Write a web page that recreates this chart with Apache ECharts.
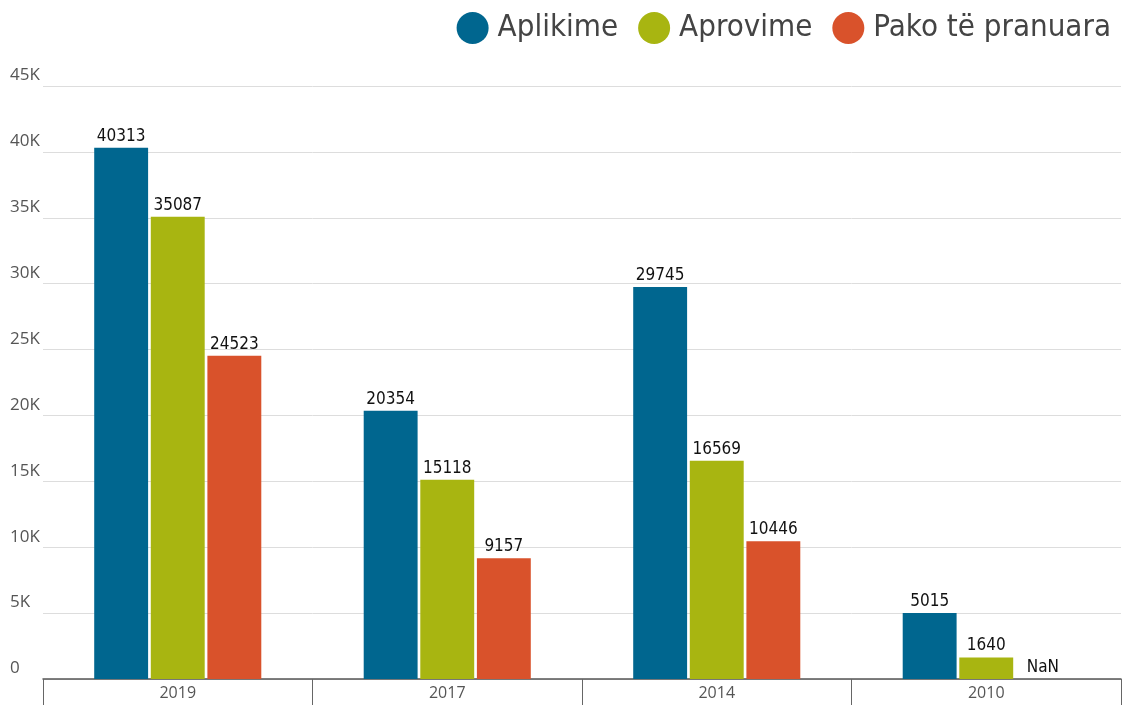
<!DOCTYPE html>
<html><head><meta charset="utf-8">
<script src="https://cdn.jsdelivr.net/npm/echarts@6/dist/echarts.min.js"></script>
<style>html,body{margin:0;padding:0;background:#fff}#c{width:1124px;height:708px}</style>
</head><body><div id="c"></div>
<script>
const categories = ['2019', '2017', '2014', '2010'];
const aplikime = [40313, 20354, 29745, 5015];
const aprovime = [35087, 15118, 16569, 1640];
const pako = [24523, 9157, 10446, null];
const yTicks = ['0', '5K', '10K', '15K', '20K', '25K', '30K', '35K', '40K', '45K'];

const labelFont = '"Liberation Sans Narrow", "DejaVu Sans Condensed", sans-serif';
function mk(name, data, color) {
  return {
    name, type: 'bar', data: data.map(v => v === null ? 0 : v),
    itemStyle: { color },
    barGap: '5%', barCategoryGap: '38%',
    label: {
      show: true, position: 'top', distance: 3, color: '#111',
      fontFamily: labelFont, fontSize: 17,
      formatter: p => (data[p.dataIndex] === null ? 'NaN' : String(p.value))
    }
  };
}
const chart = echarts.init(document.getElementById('c'));
chart.setOption({
  animation: false,
  legend: {
    right: 8, top: 7, itemWidth: 32, itemHeight: 32, itemGap: 20, icon: 'circle',
    textStyle: { fontFamily: labelFont, fontSize: 31, color: '#444', padding: [0, 0, 0, 4] }
  },
  grid: { left: 43, right: 3, top: 86, bottom: 29 },
  xAxis: {
    type: 'category', data: categories,
    axisLine: { lineStyle: { color: '#555', width: 1.5 } },
    axisTick: { show: true, length: 26, alignWithLabel: false, lineStyle: { color: '#666' } },
    axisLabel: { color: '#555', fontSize: 16, fontFamily: 'Open Sans, sans-serif', margin: 6 }
  },
  yAxis: {
    type: 'value', min: 0, max: 45000, interval: 5000,
    axisLine: { show: false }, axisTick: { show: false },
    splitLine: { lineStyle: { color: '#ddd' } },
    axisLabel: {
      align: 'left', verticalAlign: 'bottom', margin: 33, padding: [0, 0, 2, 0],
      color: '#555', fontSize: 17, fontFamily: 'Open Sans, sans-serif',
      formatter: (v, i) => yTicks[i]
    }
  },
  series: [
    mk('Aplikime', aplikime, '#00668F'),
    mk('Aprovime', aprovime, '#A8B511'),
    mk('Pako të pranuara', pako, '#D9522B')
  ]
});
</script></body></html>
